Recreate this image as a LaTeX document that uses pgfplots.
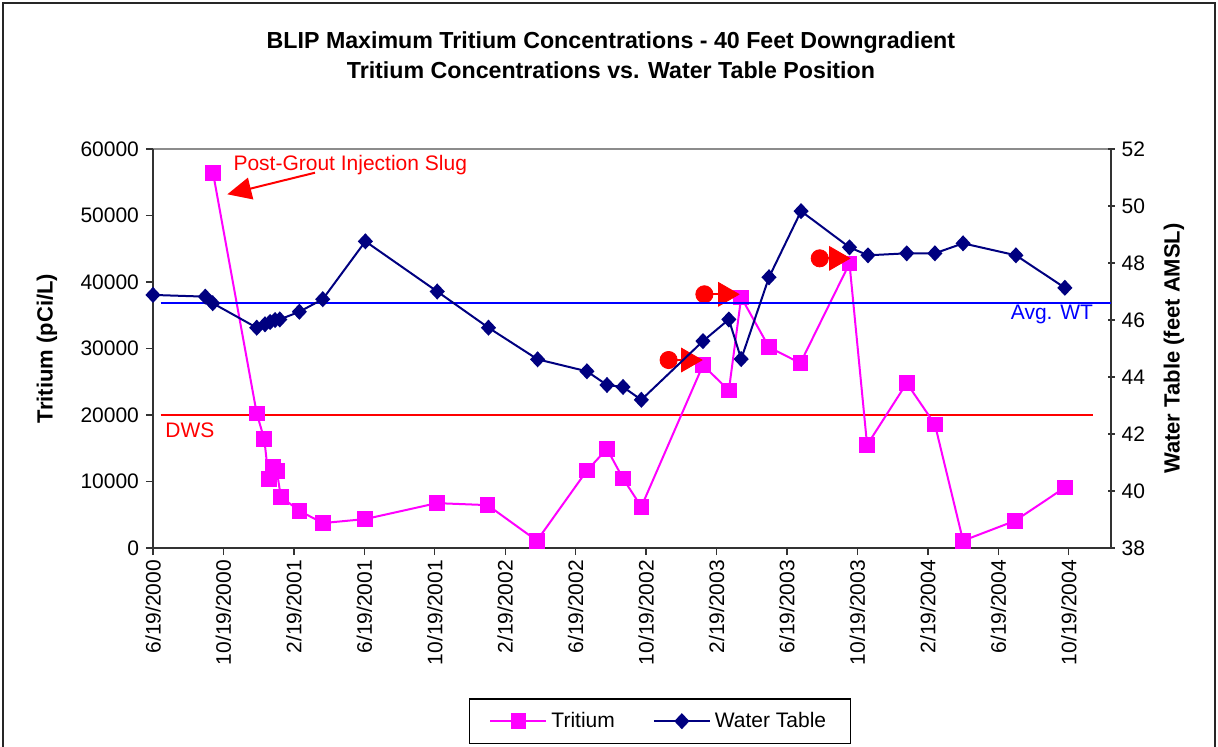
\documentclass[border=0pt]{standalone}
\usepackage{fontspec}
\setmainfont{Liberation Sans}
\usepackage{pgfplots}
\usepackage{pgfplotstable}
\pgfplotsset{compat=1.18}
\usetikzlibrary{arrows.meta}

\definecolor{trit}{RGB}{255,0,255}
\definecolor{wtab}{RGB}{0,0,128}
\definecolor{avgwt}{RGB}{0,0,255}
\definecolor{dws}{RGB}{255,0,0}

% x = months after 6/19/2000
\pgfplotstableread{
m T
3.41 56400
5.89 20250
6.32 16350
6.57 10400
6.80 12200
7.03 11600
7.26 7700
8.31 5600
9.64 3750
12.05 4350
16.12 6750
19.00 6450
21.80 1100
24.64 11650
25.78 14900
26.69 10450
27.73 6200
31.23 27500
32.70 23700
33.40 37700
34.98 30200
36.76 27800
39.55 42800
40.55 15500
42.80 24800
44.40 18600
46.00 1100
48.96 4100
51.78 9100
}\tritium

\pgfplotstableread{
m W
0.00 46.88
2.97 46.82
3.39 46.59
5.89 45.73
6.36 45.85
6.65 45.93
6.93 46.00
7.20 46.02
8.31 46.29
9.64 46.73
12.06 48.76
16.14 47.00
19.05 45.73
21.84 44.62
24.64 44.20
25.78 43.72
26.69 43.65
27.73 43.20
31.23 45.26
32.70 46.02
33.40 44.63
34.98 47.50
36.80 49.82
39.55 48.55
40.60 48.27
42.80 48.34
44.40 48.34
46.00 48.69
49.00 48.27
51.78 47.13
}\watertable

\pgfplotsset{
  common/.style={
    at={(0pt,0pt)}, anchor=south west,
    scale only axis, width=479pt, height=199.5pt,
    xmin=0, xmax=54.4, clip=false,
    axis line style={black!80, line width=0.7pt},
    major tick style={black!80, line width=0.7pt},
    major tick length=3.5pt,
    tick label style={font=\fontsize{10.5}{12}\selectfont},
    yticklabel style={/pgf/number format/assume math mode=true, /pgf/number format/1000 sep={}},
    scaled y ticks=false,
  },
}

\begin{document}
\begin{tikzpicture}
\path[use as bounding box] (-76.5pt,-99pt) rectangle (532.5pt,274pt);
\draw[black!85, line width=0.8pt] (-75pt,-110pt) -- (-75pt,272.5pt) -- (531pt,272.5pt) -- (531pt,-110pt);
\draw[black!45, line width=0.7pt] (0pt,199.5pt) -- (479pt,199.5pt);

\begin{axis}[common,
  ymin=0, ymax=60000,
  axis y line*=left, axis x line*=bottom,
  tick align=outside,
  ytick={0,10000,...,60000},
  xtick={0,4,...,52},
  xticklabels={6/19/2000,10/19/2000,2/19/2001,6/19/2001,10/19/2001,2/19/2002,6/19/2002,10/19/2002,2/19/2003,6/19/2003,10/19/2003,2/19/2004,6/19/2004,10/19/2004},
  xticklabel style={rotate=90, anchor=east, xshift=1pt},
  legend columns=2,
  legend style={at={(rel axis cs:0.529,-0.434)}, anchor=center, draw=black, line width=0.6pt,
    font=\fontsize{10.5}{12}\selectfont, inner xsep=10pt, inner ysep=4.5pt,
    /tikz/every even column/.append style={column sep=17pt}},
  legend image code/.code={\draw[mark repeat=2,mark phase=2] plot coordinates {(0pt,0pt) (14pt,0pt) (28pt,0pt)};},
]
\addplot[dws, line width=1pt, forget plot] coordinates {(0.44,20000) (53.4,20000)};
\addplot[trit, line width=1pt, mark=square*, mark size=3.4pt] table[x=m, y=T] {\tritium};
\addlegendentry{Tritium}
\addlegendimage{wtab, line width=1pt, mark=diamond*, mark size=3.3pt, mark options={xscale=1.25}}
\addlegendentry{Water Table}

% sampling markers
\addplot[dws, line width=1pt, forget plot] coordinates {(29.28,28270) (30.4,28270)};
\addplot[dws, line width=1pt, forget plot] coordinates {(31.31,38150) (32.5,38150)};
\addplot[dws, line width=1pt, forget plot] coordinates {(37.86,43560) (38.8,43560)};
\addplot[dws, only marks, mark=*, mark size=4.3pt, forget plot] coordinates {(29.28,28270) (31.31,38150) (37.86,43560)};
\addplot[dws, only marks, mark=triangle*, mark size=6.8pt, mark options={rotate=-90}, forget plot] coordinates {(30.4,28270) (32.5,38150) (38.8,43560)};

\draw[dws, line width=1pt, -{Triangle[length=12pt,width=11pt]}] (axis cs:9.2,56440) -- (axis cs:4.22,53190);
\node[dws, anchor=west, font=\fontsize{10.5}{12}\selectfont, inner sep=0pt] at (axis cs:4.55,57600) {Post-Grout Injection Slug};
\node[dws, anchor=west, font=\fontsize{10.5}{12}\selectfont, inner sep=0pt] at (axis cs:0.68,17740) {DWS};

\node[font=\bfseries\fontsize{11.6}{13}\selectfont] at (rel axis cs:0.478,1.268) {BLIP Maximum Tritium Concentrations - 40 Feet Downgradient};
\node[font=\bfseries\fontsize{11.6}{13}\selectfont] at (rel axis cs:0.478,1.197) {Tritium Concentrations vs. Water Table Position};
\node[font=\bfseries\fontsize{11}{13}\selectfont, rotate=90] at (rel axis cs:-0.1106,0.5) {Tritium (pCi/L)};
\end{axis}

\begin{axis}[common,
  ymin=38, ymax=52,
  axis y line*=right, axis x line=none,
  tick align=center,
  ytick={38,40,...,52},
]
\addplot[avgwt, line width=1pt] coordinates {(0.44,46.59) (54.4,46.59)};
\addplot[wtab, line width=1pt, mark=diamond*, mark size=3.3pt, mark options={xscale=1.25}] table[x=m, y=W] {\watertable};
\node[avgwt, anchor=east, font=\fontsize{10.5}{12}\selectfont, inner sep=0pt] at (axis cs:53.4,46.18) {Avg. WT};
\node[font=\bfseries\fontsize{11}{13}\selectfont, rotate=90] at (rel axis cs:1.0658,0.5) {Water Table (feet AMSL)};
\end{axis}
\end{tikzpicture}
\end{document}
